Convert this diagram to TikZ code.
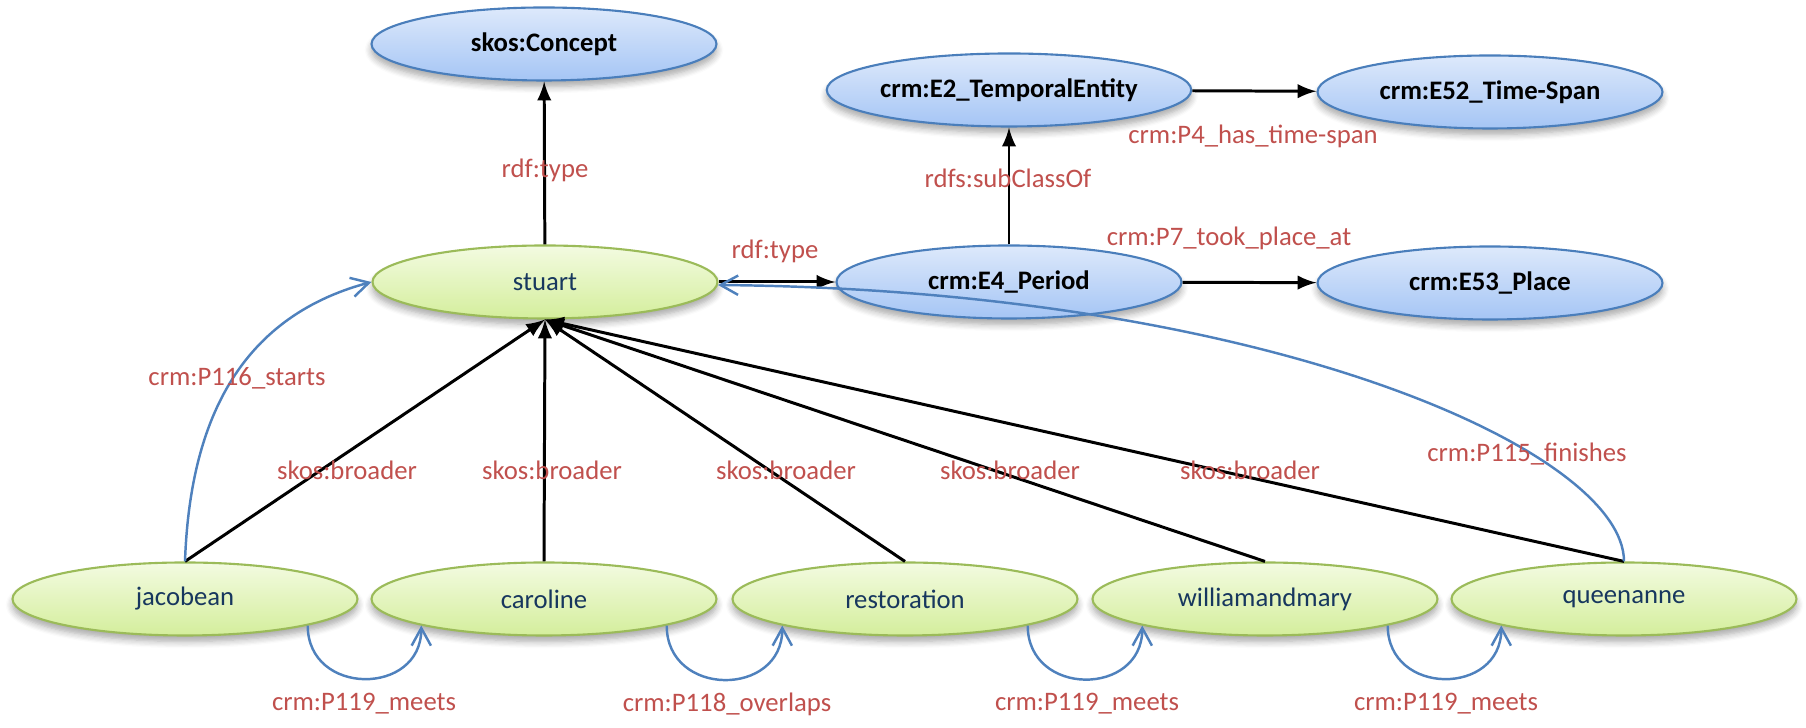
\documentclass[tikz,border=0pt]{standalone}
\usepackage{fontspec}
\setmainfont{Carlito}
\usepackage{tikz}
\usetikzlibrary{shapes,arrows,arrows.meta,positioning,shadows.blur}
\usepackage{xcolor}
\definecolor{cblue}{HTML}{4A7EBB}
\definecolor{ctop}{HTML}{DDE9FB}
\definecolor{cbot}{HTML}{A5C5F5}
\definecolor{cgreen}{HTML}{9BBB59}
\definecolor{gtop}{HTML}{F3FBE1}
\definecolor{gbot}{HTML}{D4EE9C}
\definecolor{gtext}{HTML}{17375E}
\definecolor{cred}{HTML}{C0504D}
\definecolor{cline}{HTML}{4F81BD}
\tikzstyle{l1}=[line width=0.85]
\tikzstyle{l2}=[line width=0.7]
\tikzstyle{ell}=[ellipse, minimum width=3.45cm, minimum height=0.73cm, inner sep=0pt, line width=0.6,
  blur shadow={shadow xshift=0pt, shadow yshift=-0.06cm, shadow blur steps=6, shadow opacity=35}]
\tikzstyle{cls}=[ell, draw=cblue, top color=ctop, bottom color=cbot, font=\fontsize{7.6}{9}\selectfont\bfseries]
\tikzstyle{inst}=[ell, draw=cgreen, top color=gtop, bottom color=gbot, text=gtext, font=\fontsize{7.6}{9}\selectfont]
\tikzstyle{lbl}=[text=cred, font=\fontsize{7.6}{9}\selectfont, inner sep=1pt]
\tikzstyle{rel}=[l1, -latex]
\tikzstyle{tmp}=[l2, color=cline, -{Straight Barb[length=5pt, width=5.5pt]}]

\begin{document}
\begin{tikzpicture}
    \useasboundingbox (0,0) rectangle (18.06,7.28);

    \node (concept) [cls] at (5.44, 6.84) {skos:Concept};
    \node (temporal) [cls] at (10.09, 6.38) {crm:E2\_TemporalEntity};
    \node (timespan) [cls] at (14.90, 6.36) {crm:E52\_Time-Span};
    \node (period) [cls] at (10.09, 4.46) {crm:E4\_Period};
    \node (place) [cls] at (14.90, 4.45) {crm:E53\_Place};
    \node (stuart) [inst] at (5.45, 4.46) {stuart};

    \node (jacobean) [inst] at (1.85, 1.29) {jacobean};
    \node (caroline) [inst] at (5.44, 1.29) {caroline};
    \node (restoration) [inst] at (9.05, 1.29) {restoration};
    \node (william) [inst] at (12.65, 1.29) {williamandmary};
    \node (queenanne) [inst] at (16.24, 1.29) {queenanne};

    \draw[rel] (stuart) -- (concept);
    \draw[rel] (stuart) -- (period);
    \draw[rel] (period) -- (temporal);
    \draw[rel] (temporal) -- (timespan);
    \draw[rel] (period) -- (place);
    \foreach \n in {jacobean,caroline,restoration,william,queenanne}
        \draw[rel] (\n.north) -- (stuart.south);

    \draw[tmp] (jacobean.north) to[out=88, in=195, looseness=1.05] (stuart.west);
    \draw[tmp] (queenanne.north) .. controls +(0,1.1) and +(5.5,-0.05) .. (stuart.-1);
    \draw[tmp] (jacobean.south east) to[out=-90, in=-90, looseness=1.6] (caroline.south west);
    \draw[tmp] (caroline.south east) to[out=-90, in=-90, looseness=1.6] (restoration.south west);
    \draw[tmp] (restoration.south east) to[out=-90, in=-90, looseness=1.6] (william.south west);
    \draw[tmp] (william.south east) to[out=-90, in=-90, looseness=1.6] (queenanne.south west);

    \node (t1) [lbl] at (5.45, 5.58) {rdf:type};
    \node (t2) [lbl] at (7.75, 4.77) {rdf:type};
    \node (sub) [lbl] at (10.08, 5.50) {rdfs:subClassOf};
    \node (span) [lbl] at (12.53, 5.92) {crm:P4\_has\_time-span};
    \node (took) [lbl] at (12.29, 4.90) {crm:P7\_took\_place\_at};
    \node (starts) [lbl] at (2.37, 3.50) {crm:P116\_starts};
    \node (finishes) [lbl] at (15.27, 2.74) {crm:P115\_finishes};
    \node (b1) [lbl] at (3.47, 2.58) {skos:broader};
    \node (b2) [lbl] at (5.52, 2.58) {skos:broader};
    \node (b3) [lbl] at (7.86, 2.58) {skos:broader};
    \node (b4) [lbl] at (10.10, 2.58) {skos:broader};
    \node (b5) [lbl] at (12.50, 2.58) {skos:broader};
    \node (m1) [lbl] at (3.64, 0.24) {crm:P119\_meets};
    \node (o1) [lbl] at (7.27, 0.24) {crm:P118\_overlaps};
    \node (m2) [lbl] at (10.87, 0.24) {crm:P119\_meets};
    \node (m3) [lbl] at (14.46, 0.24) {crm:P119\_meets};
\end{tikzpicture}
\end{document}
